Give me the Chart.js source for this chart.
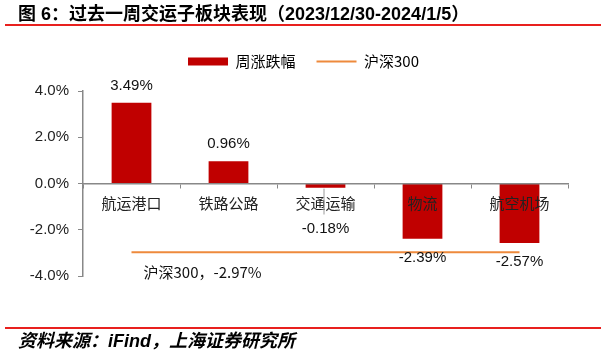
<!DOCTYPE html>
<html><head><meta charset="utf-8">
<script src="https://cdn.jsdelivr.net/npm/chart.js@4/dist/chart.umd.min.js"></script>
<style>
html,body{margin:0;padding:0;background:#fff;}
#wrap{position:relative;width:607px;height:355px;overflow:hidden;background:#fff;}
#c{position:absolute;left:0;top:0;}
#title{position:absolute;left:18px;top:4px;font:bold 18px "Liberation Sans","Noto Sans CJK SC",sans-serif;color:#000;white-space:nowrap;line-height:20px;z-index:2;}
.rule{position:absolute;left:5px;width:596px;height:2px;background:#E8201E;z-index:2;}
#foot{position:absolute;left:18px;top:331px;font:italic bold 18px "Liberation Sans","Noto Sans CJK SC",sans-serif;color:#000;white-space:nowrap;line-height:20px;z-index:2;}
</style>
</head><body>
<div id="wrap">
<canvas id="c" width="607" height="355"></canvas>
<div id="title">图 6：过去一周交运子板块表现（2023/12/30-2024/1/5）</div>
<div class="rule" style="top:24px"></div>
<div class="rule" style="top:327px"></div>
<div id="foot">资料来源：iFind，上海证券研究所</div>
</div>
<script>
const categories = ['航运港口', '铁路公路', '交通运输', '物流', '航空机场'];
const weeklyChange = [3.49, 0.96, -0.18, -2.39, -2.57];
const hs300Series = [-2.97, -2.97, -2.97, -2.97, -2.97];
const yTicks = [-4, -2, 0, 2, 4];
const barLabel = '周涨跌幅';
const lineLabel = '沪深300';

const LATIN = '"Liberation Sans", "Noto Sans CJK SC", sans-serif';
const CJK = '"Noto Sans CJK SC", sans-serif';

const legendSpace = {
  id: 'legendSpace',
  beforeLayout(chart) {
    const lg = chart.legend;
    if (lg && !lg._patched) {
      const f = lg.fit;
      lg.fit = function () { f.call(this); this.height += 12; };
      lg._patched = true;
    }
  }
};

const valueLabels = {
  id: 'valueLabels',
  afterDraw(chart) {
    const ctx = chart.ctx;
    const ys = chart.scales.y;
    const zeroY = ys.getPixelForValue(0);
    const meta = chart.getDatasetMeta(0);
    ctx.save();
    ctx.font = '15px ' + LATIN;
    ctx.fillStyle = '#111';
    ctx.textAlign = 'center';
    ctx.textBaseline = 'middle';
    meta.data.forEach((bar, i) => {
      const v = weeklyChange[i];
      const txt = v.toFixed(2) + '%';
      if (v >= 0) {
        ctx.fillText(txt, bar.x, bar.y - 17);
      } else {
        let y = bar.y + 19;
        const minY = zeroY + 45;
        if (y < minY) {
          ctx.save();
          ctx.strokeStyle = '#9a9a9a';
          ctx.lineWidth = 1;
          ctx.beginPath();
          ctx.moveTo(bar.x - 1.5, bar.y + 1);
          ctx.lineTo(bar.x - 1.5, minY - 14);
          ctx.stroke();
          ctx.restore();
          y = minY;
        }
        ctx.fillText(txt, bar.x, y);
      }
    });
    const lm = chart.getDatasetMeta(1);
    const p = lm.data[0];
    ctx.font = '15px ' + CJK;
    ctx.textAlign = 'left';
    ctx.fillStyle = '#111';
    ctx.fillText(lineLabel + '，' + hs300Series[0].toFixed(2) + '%', p.x + 12, p.y + 20);
    ctx.restore();
  }
};

new Chart(document.getElementById('c'), {
  data: {
    labels: categories,
    datasets: [
      {
        type: 'bar',
        label: barLabel,
        data: weeklyChange,
        backgroundColor: '#C00000',
        borderWidth: 0,
        barPercentage: 0.41,
        categoryPercentage: 1.0,
        order: 2
      },
      {
        type: 'line',
        label: lineLabel,
        data: hs300Series,
        borderColor: '#EE8A3C',
        backgroundColor: '#EE8A3C',
        borderWidth: 2,
        pointRadius: 0,
        pointHoverRadius: 0,
        fill: false,
        order: 1
      }
    ]
  },
  options: {
    responsive: false,
    animation: false,
    events: [],
    layout: { padding: { top: 33, bottom: 79, left: 0, right: 0 } },
    plugins: {
      tooltip: { enabled: false },
      legend: {
        display: true,
        position: 'top',
        labels: {
          usePointStyle: true,
          pointStyleWidth: 40,
          boxHeight: 8,
          padding: 21,
          color: '#222',
          font: { size: 15, family: CJK },
          generateLabels(chart) {
            return [
              { text: barLabel, fillStyle: '#C00000', strokeStyle: '#C00000', lineWidth: 0, pointStyle: 'rect', datasetIndex: 0, hidden: false },
              { text: lineLabel, fillStyle: '#EE8A3C', strokeStyle: '#EE8A3C', lineWidth: 2, pointStyle: 'line', datasetIndex: 1, hidden: false }
            ];
          }
        }
      }
    },
    scales: {
      x: {
        position: { y: 0 },
        offset: true,
        grid: { display: true, drawOnChartArea: false, drawTicks: true, tickLength: 4, color: '#888', offset: true, z: 1 },
        border: { display: true, color: '#888', width: 1.5, z: 1 },
        ticks: { z: 1, color: '#222', font: { size: 15, family: CJK }, padding: 7, maxRotation: 0, autoSkip: false }
      },
      y: {
        position: 'left',
        min: -4,
        max: 4,
        afterBuildTicks(scale) { scale.ticks = yTicks.map(v => ({ value: v })); },
        afterFit(scale) { scale.width = 83; },
        grid: { display: true, drawOnChartArea: false, drawTicks: true, tickLength: 5, color: '#888' },
        border: { display: true, color: '#888', width: 1.5 },
        ticks: { color: '#222', font: { size: 15, family: LATIN }, padding: 9, callback: v => Number(v).toFixed(1) + '%' }
      },
      y2: {
        position: 'right',
        display: true,
        min: -4,
        max: 4,
        afterFit(scale) { scale.width = 39; },
        grid: { display: false },
        border: { display: false },
        ticks: { display: false }
      }
    }
  },
  plugins: [legendSpace, valueLabels]
});
</script>
</body></html>
